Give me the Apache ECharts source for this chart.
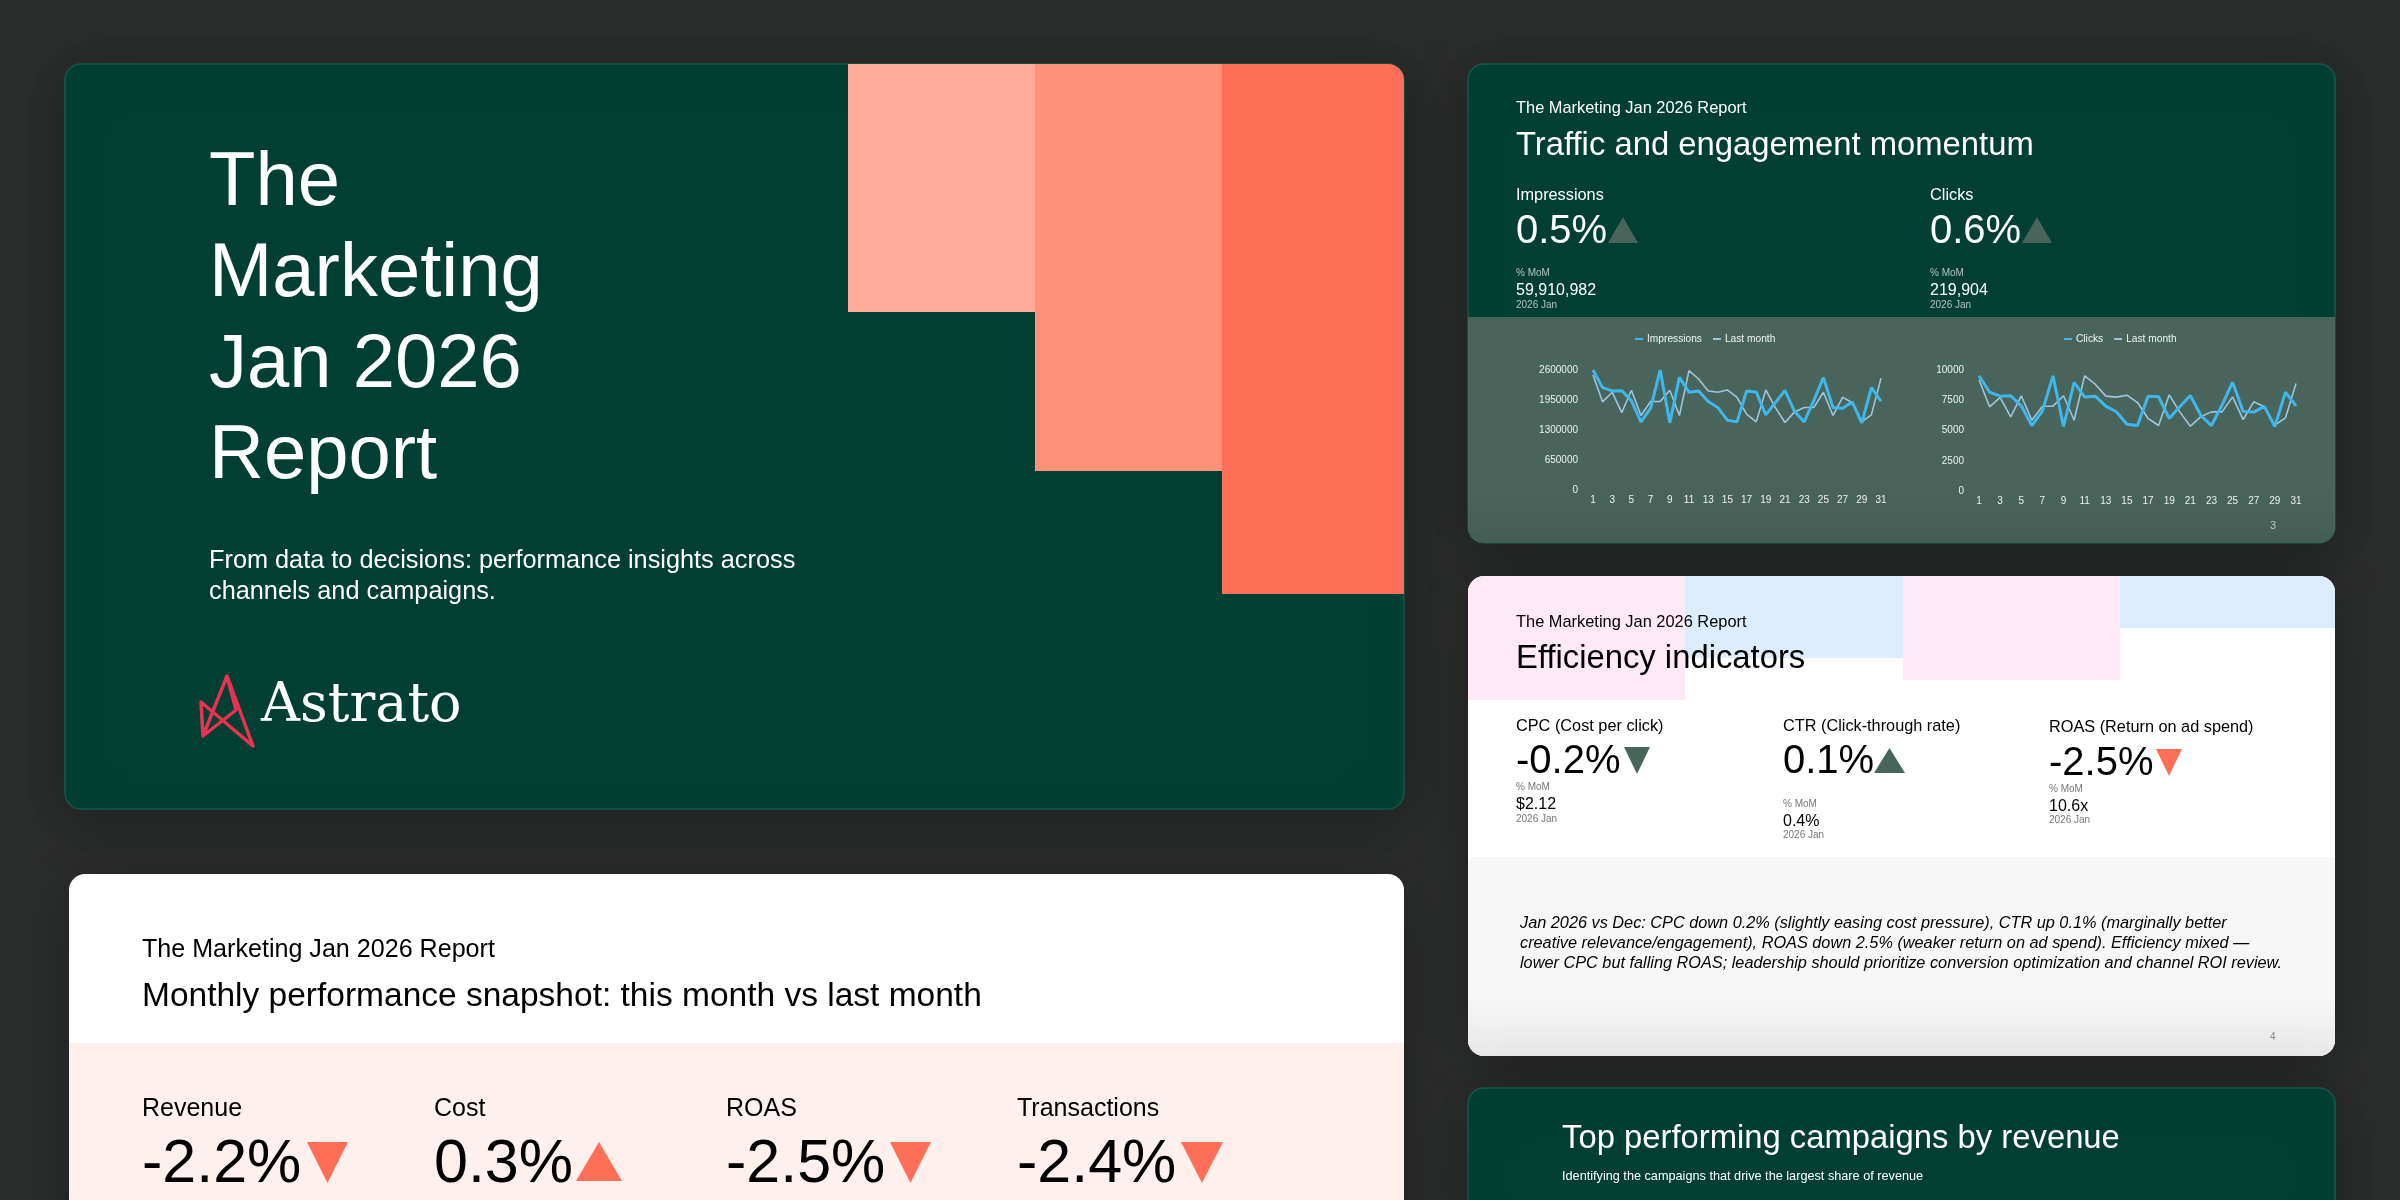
<!DOCTYPE html>
<html>
<head>
<meta charset="utf-8">
<title>The Marketing Jan 2026 Report</title>
<script src="https://cdn.jsdelivr.net/npm/echarts@6/dist/echarts.min.js"></script>
<style>
  html, body { margin: 0; padding: 0; background: #2b2c2c; }
  #main { width: 2400px; height: 1200px; }
</style>
</head>
<body>
<div id="main"></div>
<script>
const days = [1,2,3,4,5,6,7,8,9,10,11,12,13,14,15,16,17,18,19,20,21,22,23,24,25,26,27,28,29,30,31]

const impressions = [2600000,2218000,2146000,2153000,1937000,1476000,1772000,2600000,1455000,2441000,2117000,2146000,1916000,1786000,1512000,1476000,2146000,2124000,1628000,1894000,2160000,1700000,1476000,1937000,2434000,1786000,1772000,1908000,1455000,2218000,1923000]
const impressionsLast = [2492000,1908000,2117000,1678000,2160000,1613000,1916000,1916000,2160000,1613000,2586000,2405000,2146000,2117000,2167000,2009000,1642000,1476000,2167000,1786000,1462000,1692000,1786000,1786000,2117000,1613000,2009000,1894000,1483000,1628000,2420000]
const clicks = [9520,8170,7840,7870,7040,5410,6600,9520,5330,8980,7760,7840,7020,6550,5520,5410,7840,7790,5990,6960,7900,6240,5410,7100,8980,6570,6520,6990,5330,8170,7040]
const clicksLast = [9190,6960,7730,6130,7870,5850,7010,7010,7870,5850,9520,8830,7840,7760,7920,7310,5990,5410,7950,6540,5350,6150,6540,6540,7780,5900,7370,6960,5440,6040,8890]

const SANS = '"Liberation Sans", Arial, sans-serif'
const GREEN = '#023f33'
const SAGE = '#49655b'
const CORAL = '#ff6e57'

// helpers for the slide furniture, all of it sits in the graphic component
function box(x, y, w, h, fill, r, extra) {
    return Object.assign({
        type: 'rect',
        shape: { x, y, width: w, height: h, r: r || 0 },
        style: { fill }
    }, extra || {})
}
function card(x, y, w, h, fill, stroke) {
    return box(x, y, w, h, fill, 16, {
        style: {
            fill,
            stroke: stroke || null,
            lineWidth: stroke ? 1.5 : 0,
            shadowBlur: 60,
            shadowColor: 'rgba(0,0,0,0.28)',
            shadowOffsetY: 10
        }
    })
}
function txt(text, x, y, size, fill, opts) {
    return {
        type: 'text',
        x,
        y: y + size * 0.07,
        style: Object.assign({
            text, fill,
            font: `${(opts && opts.italic) ? 'italic ' : ''}${size}px ${SANS}`,
            verticalAlign: 'middle',
            align: 'left'
        }, (opts && opts.style) || {})
    }
}
function tri(x0, x1, yTop, yBottom, up, fill) {
    const mid = (x0 + x1) / 2
    const points = up
        ? [[mid, yTop], [x1, yBottom], [x0, yBottom]]
        : [[x0, yTop], [x1, yTop], [mid, yBottom]]
    return { type: 'polygon', shape: { points }, style: { fill } }
}
function fade(x, y, w, h, from, to, r) {
    return box(x, y, w, h, null, r, {
        style: {
            fill: new echarts.graphic.LinearGradient(0, 0, 0, 1, [
                { offset: 0, color: from },
                { offset: 1, color: to }
            ])
        }
    })
}

const slides = [
    // cover
    card(65, 64, 1339, 745, GREEN, '#12584a'),
    box(848, 64, 187, 248, '#ffab99'),
    box(1035, 64, 187, 407, '#ff907a'),
    box(1222, 64, 182, 530, CORAL, [0, 16, 0, 0]),
    txt('The', 209, 179, 76, '#fff'),
    txt('Marketing', 209, 270, 76, '#fff'),
    txt('Jan 2026', 209, 361, 76, '#fff'),
    txt('Report', 209, 452, 76, '#fff'),
    txt('From data to decisions: performance insights across', 209, 559, 25.3, '#fff'),
    txt('channels and campaigns.', 209, 590, 25.3, '#fff'),
    {
        type: 'polyline',
        shape: { points: [[227, 676], [253, 746], [201, 702], [203, 736], [236, 710], [227, 676], [203, 736]] },
        style: { fill: null, stroke: '#e8324f', lineWidth: 3.5, lineJoin: 'round' }
    },
    txt('Astrato', 261, 703, 54, '#fff', { style: { font: '54px "DejaVu Serif", serif' } }),

    // traffic slide
    card(1468, 64, 867, 479, GREEN, '#12584a'),
    box(1468, 317, 867, 226, SAGE, [0, 0, 16, 16]),
    fade(1468, 480, 867, 63, 'rgba(66,92,82,0)', 'rgba(66,92,82,0.7)', [0, 0, 16, 16]),
    txt('The Marketing Jan 2026 Report', 1516, 107, 16.4, '#fff'),
    txt('Traffic and engagement momentum', 1516, 144, 32.8, '#fff'),
    txt('Impressions', 1516, 194, 16.3, '#fff'),
    txt('0.5%', 1516, 229, 40, '#fff'),
    tri(1608, 1638, 217, 243, true, SAGE),
    txt('% MoM', 1516, 273, 10, '#b4c2bd'),
    txt('59,910,982', 1516, 289, 16, '#fff'),
    txt('2026 Jan', 1516, 305, 10, '#b4c2bd'),
    txt('Clicks', 1930, 194, 16.3, '#fff'),
    txt('0.6%', 1930, 229, 40, '#fff'),
    tri(2022, 2052, 217, 243, true, SAGE),
    txt('% MoM', 1930, 273, 10, '#b4c2bd'),
    txt('219,904', 1930, 289, 16, '#fff'),
    txt('2026 Jan', 1930, 305, 10, '#b4c2bd'),
    txt('3', 2270, 525, 11, '#b9c5c0'),

    // efficiency slide
    card(1468, 576, 867, 480, '#fff'),
    box(1468, 576, 217, 124, '#fee9f6', [16, 0, 0, 0]),
    box(1685, 576, 218, 82, '#dcedfd'),
    box(1903, 576, 217, 104, '#fee9f6'),
    box(2120, 576, 215, 52, '#dcedfd', [0, 16, 0, 0]),
    box(1468, 857, 867, 199, '#f7f7f7', [0, 0, 16, 16]),
    fade(1468, 995, 867, 61, 'rgba(234,234,234,0)', 'rgba(234,234,234,1)', [0, 0, 16, 16]),
    txt('The Marketing Jan 2026 Report', 1516, 621, 16.4, '#000'),
    txt('Efficiency indicators', 1516, 657, 32.8, '#000'),
    txt('CPC (Cost per click)', 1516, 725, 16.3, '#000'),
    txt('-0.2%', 1516, 759, 40, '#000'),
    tri(1624, 1650, 747, 774, false, '#46665a'),
    txt('% MoM', 1516, 787, 10, '#777'),
    txt('$2.12', 1516, 803, 16, '#000'),
    txt('2026 Jan', 1516, 819, 10, '#777'),
    txt('CTR (Click-through rate)', 1783, 725, 16.3, '#000'),
    txt('0.1%', 1783, 759, 40, '#000'),
    tri(1874, 1905, 748, 773, true, '#46665a'),
    txt('% MoM', 1783, 804, 10, '#777'),
    txt('0.4%', 1783, 820, 16, '#000'),
    txt('2026 Jan', 1783, 835, 10, '#777'),
    txt('ROAS (Return on ad spend)', 2049, 726, 16.3, '#000'),
    txt('-2.5%', 2049, 761, 40, '#000'),
    tri(2156, 2182, 749, 776, false, CORAL),
    txt('% MoM', 2049, 789, 10, '#777'),
    txt('10.6x', 2049, 805, 16, '#000'),
    txt('2026 Jan', 2049, 820, 10, '#777'),
    txt('Jan 2026 vs Dec: CPC down 0.2% (slightly easing cost pressure), CTR up 0.1% (marginally better', 1520, 922, 16.3, '#000', { italic: true }),
    txt('creative relevance/engagement), ROAS down 2.5% (weaker return on ad spend). Efficiency mixed \u2014', 1520, 942, 16.3, '#000', { italic: true }),
    txt('lower CPC but falling ROAS; leadership should prioritize conversion optimization and channel ROI review.', 1520, 962, 16.3, '#000', { italic: true }),
    txt('4', 2270, 1037, 10, '#888'),

    // campaigns slide, runs off the bottom
    card(1468, 1088, 867, 160, GREEN, '#12584a'),
    txt('Top performing campaigns by revenue', 1562, 1137, 32.8, '#fff'),
    txt('Identifying the campaigns that drive the largest share of revenue', 1562, 1176, 12.7, '#fff'),

    // snapshot slide, runs off the bottom
    card(69, 874, 1335, 380, '#fff'),
    box(69, 1043, 1335, 200, '#fef0ed'),
    txt('The Marketing Jan 2026 Report', 142, 948, 25.1, '#000'),
    txt('Monthly performance snapshot: this month vs last month', 142, 994, 33.5, '#000'),
    txt('Revenue', 142, 1107, 25, '#000'),
    txt('-2.2%', 142, 1161, 61, '#000'),
    tri(307, 348, 1142, 1183, false, CORAL),
    txt('% MoM', 142, 1205, 13, '#777'),
    txt('Cost', 434, 1107, 25, '#000'),
    txt('0.3%', 434, 1161, 61, '#000'),
    tri(576, 622, 1142, 1181, true, CORAL),
    txt('ROAS', 726, 1107, 25, '#000'),
    txt('-2.5%', 726, 1161, 61, '#000'),
    tri(890, 931, 1142, 1183, false, CORAL),
    txt('% MoM', 726, 1205, 13, '#777'),
    txt('Transactions', 1017, 1107, 25, '#000'),
    txt('-2.4%', 1017, 1161, 61, '#000'),
    tri(1181, 1223, 1142, 1183, false, CORAL),
    txt('% MoM', 1017, 1205, 13, '#777')
]

function legendAt(left, names) {
    return {
        left, top: 334,
        data: names,
        icon: 'rect',
        itemWidth: 8,
        itemHeight: 2,
        itemGap: 11,
        padding: 0,
        textStyle: { color: '#f2f5f4', fontSize: 10.2, fontFamily: SANS, padding: [0, 0, 0, -1] }
    }
}
function xAxisOn(gridIndex) {
    return {
        type: 'category',
        gridIndex,
        data: days,
        boundaryGap: false,
        axisLine: { show: false },
        axisTick: { show: false },
        axisLabel: { interval: 1, margin: 5, color: '#eef1f0', fontSize: 10, fontFamily: SANS }
    }
}
function yAxisOn(gridIndex, max, interval) {
    return {
        type: 'value',
        gridIndex,
        min: 0, max, interval,
        axisLine: { show: false },
        axisTick: { show: false },
        splitLine: { show: false },
        axisLabel: {
            margin: 15,
            color: '#eef1f0',
            fontSize: 10,
            fontFamily: SANS,
            formatter: v => String(v)
        }
    }
}
function thick(name, data, idx) {
    return {
        type: 'line', name, data, xAxisIndex: idx, yAxisIndex: idx, z: 4,
        showSymbol: false, animation: false,
        lineStyle: { width: 3, color: '#3eb8ec' }, itemStyle: { color: '#3eb8ec' }
    }
}
function thin(name, data, idx) {
    return {
        type: 'line', name, data, xAxisIndex: idx, yAxisIndex: idx, z: 3,
        showSymbol: false, animation: false,
        lineStyle: { width: 1.6, color: '#9cc6e0' }, itemStyle: { color: '#9cc6e0' }
    }
}

const myChart = echarts.init(document.getElementById('main'), null, { width: 2400, height: 1200 })
myChart.setOption({
    animation: false,
    backgroundColor: '#2b2c2c',
    graphic: { elements: slides },
    legend: [
        legendAt(1635, ['Impressions', 'Last month']),
        legendAt(2064, ['Clicks', 'Last month'])
    ],
    grid: [
        { left: 1593, top: 370, width: 288, height: 120 },
        { left: 1979, top: 370, width: 317, height: 121 }
    ],
    xAxis: [xAxisOn(0), xAxisOn(1)],
    yAxis: [yAxisOn(0, 2600000, 650000), yAxisOn(1, 10000, 2500)],
    series: [
        thick('Impressions', impressions, 0),
        thin('Last month', impressionsLast, 0),
        thick('Clicks', clicks, 1),
        thin('Last month', clicksLast, 1)
    ]
})
</script>
</body>
</html>
